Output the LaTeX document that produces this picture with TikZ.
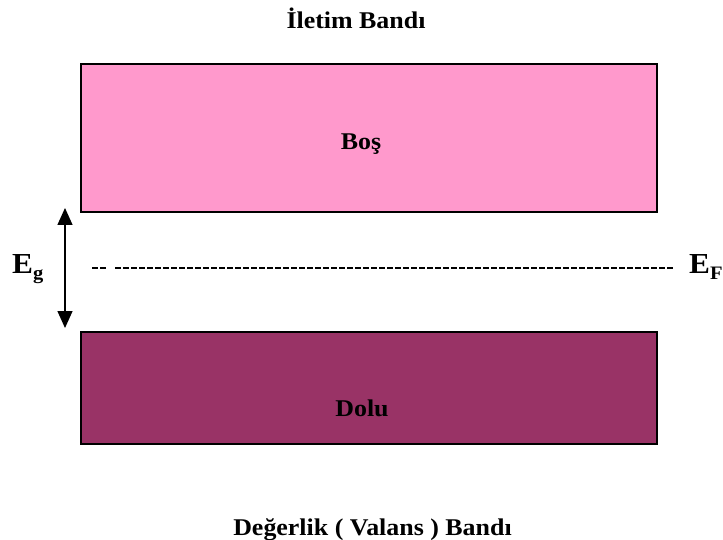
\documentclass[tikz,border=0pt]{standalone}
\usepackage{fontspec}
\setmainfont[FakeStretch=1.08]{Liberation Serif}
\usetikzlibrary{arrows.meta}
\definecolor{bandpink}{HTML}{FF99CC}
\definecolor{bandplum}{HTML}{993366}
\tikzset{
  band/.style={draw=black, line width=2pt, minimum width=576.5pt, inner sep=0pt},
  lbl/.style={inner sep=0pt, anchor=base, font=\fontsize{24}{28}\selectfont\bfseries},
  elbl/.style={inner sep=0pt, anchor=base west, font=\fontsize{29}{32}\selectfont\bfseries},
  fermi/.style={line width=1.4pt, dash pattern=on 5.5pt off 2.5pt},
  gap/.style={line width=1.5pt, {Triangle[width=15pt,length=17pt]}-{Triangle[width=15pt,length=17pt]}}
}
\begin{document}
\begin{tikzpicture}[x=1pt,y=-1pt]
\useasboundingbox (0,0) rectangle (723,540);
\node[lbl] (title) at (356,28.3) {İletim Bandı};
\node[band, fill=bandpink, minimum height=147.5pt] (cb) at (368.75,138.25) {};
\node[lbl] (bos) at (361,149.3) {Boş};
\node[band, fill=bandplum, minimum height=112pt] (vb) at (368.75,388) {};
\node[lbl] (dolu) at (362,416) {Dolu};
\node[lbl] (val) at (372.5,535) {Değerlik ( Valans ) Bandı};
\coordinate (gt) at (65,208);
\coordinate (gb) at (65,328);
\draw[gap] (gt) -- (gb);
\node[elbl] (eg) at (12,273) {E\raisebox{-6pt}{\fontsize{19}{19}\selectfont g}};
\coordinate (f0) at (92,268);
\coordinate (f1) at (107,268);
\coordinate (f2) at (115,268);
\coordinate (f3) at (673,268);
\draw[fermi] (f0) -- (f1);
\draw[fermi] (f2) -- (f3);
\node[elbl] (ef) at (689,273) {E\raisebox{-6pt}{\fontsize{19}{19}\selectfont F}};
\end{tikzpicture}
\end{document}
